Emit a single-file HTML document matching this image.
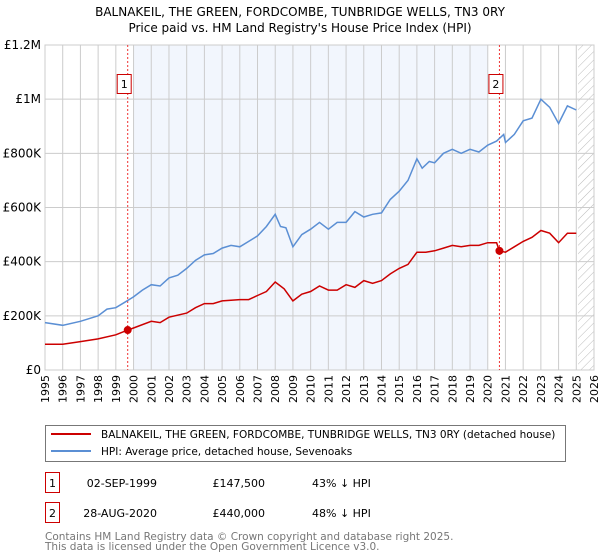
<!DOCTYPE html>
<html><head><meta charset="utf-8"><style>
body{margin:0;background:#fff;font-family:"DejaVu Sans","Liberation Sans",sans-serif;}
#wrap{position:relative;width:600px;height:560px;overflow:hidden}
</style></head><body><div id="wrap">
<svg id="c" width="600" height="560" font-family="DejaVu Sans, Liberation Sans, sans-serif"></svg>
</div>
<script>
const hpiYears=[1995,1996,1997,1998,1998.5,1999,1999.5,2000,2000.5,2001,2001.5,2002,2002.5,2003,2003.5,2004,2004.5,2005,2005.5,2006,2006.5,2007,2007.5,2008,2008.3,2008.6,2009,2009.5,2010,2010.5,2011,2011.5,2012,2012.5,2013,2013.5,2014,2014.5,2015,2015.5,2016,2016.3,2016.7,2017,2017.5,2018,2018.5,2019,2019.5,2020,2020.5,2020.9,2021,2021.5,2022,2022.5,2023,2023.5,2024,2024.5,2025];
const hpiValues=[175,165,180,200,225,230,250,270,295,315,310,340,350,375,405,425,430,450,460,455,475,495,530,575,530,525,455,500,520,545,520,545,545,585,565,575,580,630,660,700,780,745,770,765,800,815,800,815,805,830,845,870,840,870,920,930,1000,970,910,975,960];
const propYears=[1995,1996,1997,1998,1999,1999.67,2000,2001,2001.5,2002,2003,2003.5,2004,2004.5,2005,2006,2006.5,2007,2007.5,2008,2008.5,2009,2009.5,2010,2010.5,2011,2011.5,2012,2012.5,2013,2013.5,2014,2014.5,2015,2015.5,2016,2016.5,2017,2017.5,2018,2018.5,2019,2019.5,2020,2020.5,2020.66,2021,2021.5,2022,2022.5,2023,2023.5,2024,2024.5,2025];
const propValues=[95,95,105,115,130,147.5,155,180,175,195,210,230,245,245,255,260,260,275,290,325,300,255,280,290,310,295,295,315,305,330,320,330,355,375,390,435,435,440,450,460,455,460,460,470,470,440,435,455,475,490,515,505,470,505,505];
const saleYears=[1999.67,2020.66];
const saleValues=[147.5,440];
const saleLabels=["1","2"];
const yTicks=[0,200,400,600,800,1000,1200];
const yTickLabels=["£0","£200K","£400K","£600K","£800K","£1M","£1.2M"];
const xYears=[1995,1996,1997,1998,1999,2000,2001,2002,2003,2004,2005,2006,2007,2008,2009,2010,2011,2012,2013,2014,2015,2016,2017,2018,2019,2020,2021,2022,2023,2024,2025,2026];

const svg=document.getElementById('c');const NS='http://www.w3.org/2000/svg';
const L=45,R=594,T=45,B=370;
const x=y=>L+(y-1995)/(2026-1995)*(R-L);
const y=v=>B-v/1200*(B-T);
function el(t,a,p){const e=document.createElementNS(NS,t);for(const k in a)e.setAttribute(k,a[k]);(p||svg).appendChild(e);return e;}
function tx(s,a){const e=el('text',a);e.textContent=s;return e;}

let e=tx('BALNAKEIL, THE GREEN, FORDCOMBE, TUNBRIDGE WELLS, TN3 0RY',{x:300,y:16,'text-anchor':'middle','font-size':12});

e=tx("Price paid vs. HM Land Registry's House Price Index (HPI)",{x:300,y:32,'text-anchor':'middle','font-size':12});


e=el('rect',{x:x(2000),y:T,width:x(2020)-x(2000),height:B-T,fill:'#eef3fc',opacity:0.75});

const defs=el('defs',{});
const pat=el('pattern',{id:'h',width:6,height:6,patternUnits:'userSpaceOnUse',patternTransform:'rotate(45)'},defs);
el('line',{x1:0,y1:0,x2:0,y2:6,stroke:'#bbb','stroke-width':1},pat);
e=el('rect',{x:x(2025.1),y:T,width:R-x(2025.1),height:B-T,fill:'url(#h)'});


xYears.forEach(yr=>{
 e=el('line',{x1:x(yr),x2:x(yr),y1:T,y2:B,stroke:'#ccc','stroke-width':1});
 
 e=tx(String(yr),{x:0,y:0,'font-size':11,'text-anchor':'end',transform:`translate(${x(yr)+4},${B+5}) rotate(-90)`});
 
});
yTicks.forEach((v,i)=>{
 e=el('line',{x1:L,x2:R,y1:y(v),y2:y(v),stroke:'#ccc','stroke-width':1});
 
 e=tx(yTickLabels[i],{x:L-4,y:y(v)+4,'text-anchor':'end','font-size':12});
 
});
e=el('rect',{x:L,y:T,width:R-L,height:B-T,fill:'none',stroke:'#ccc'});


saleYears.forEach((yr,i)=>{
 e=el('line',{x1:x(yr),x2:x(yr),y1:T,y2:B,stroke:'#e33','stroke-width':1,'stroke-dasharray':'2,2'});
 
 e=el('rect',{x:x(yr)-10.5,y:74.5,width:14,height:19,fill:'#fff',stroke:'#c00'});
 
 e=tx(saleLabels[i],{x:x(yr)-3.5,y:88,'text-anchor':'middle','font-size':11});
 
});

function path(xs,vs,c,n){const d=xs.map((t,i)=>(i?'L':'M')+x(t).toFixed(1)+','+y(vs[i]).toFixed(1)).join('');
 const p=el('path',{d,fill:'none',stroke:c,'stroke-width':1.5});
 }
path(hpiYears,hpiValues,'#5b8fd4','hpi-line');
path(propYears,propValues,'#cc0000','property-price-line');
saleYears.forEach((yr,i)=>{e=el('circle',{cx:x(yr),cy:y(saleValues[i]),r:4,fill:'#cc0000'});
 });

e=el('rect',{x:45.5,y:425.5,width:520,height:36,fill:'#fff',stroke:'#777'});

e=el('line',{x1:51,x2:91,y1:434,y2:434,stroke:'#cc0000','stroke-width':2});

e=tx('BALNAKEIL, THE GREEN, FORDCOMBE, TUNBRIDGE WELLS, TN3 0RY (detached house)',{x:101,y:438,'font-size':10.5});

e=el('line',{x1:51,x2:91,y1:451,y2:451,stroke:'#5b8fd4','stroke-width':2});

e=tx('HPI: Average price, detached house, Sevenoaks',{x:101,y:455,'font-size':10.5});


const rows=[["1","02-SEP-1999","£147,500","43% ↓ HPI",483],["2","28-AUG-2020","£440,000","48% ↓ HPI",513]];
rows.forEach(r=>{
 e=el('rect',{x:45.5,y:r[4]-10.5,width:14,height:20,fill:'#fff',stroke:'#c00'});
 
 e=tx(r[0],{x:52.5,y:r[4]+4,'text-anchor':'middle','font-size':11});
 
 e=tx(r[1],{x:157,y:r[4]+4,'text-anchor':'end','font-size':11});
 
 e=tx(r[2],{x:265,y:r[4]+4,'text-anchor':'end','font-size':11});
 
 e=tx(r[3],{x:312,y:r[4]+4,'font-size':11});
 
});
e=tx('Contains HM Land Registry data © Crown copyright and database right 2025.',{x:45,y:540,'font-size':10.5,fill:'#777'});

e=tx('This data is licensed under the Open Government Licence v3.0.',{x:45,y:550,'font-size':10.5,fill:'#777'});

</script></body></html>
